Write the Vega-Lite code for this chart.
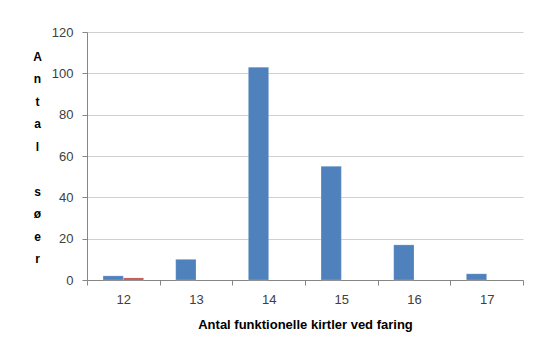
{
  "$schema": "https://vega.github.io/schema/vega-lite/v6.json",
  "width": 436,
  "height": 248,
  "autosize": {"type": "none"},
  "padding": {"left": 87, "top": 32, "right": 13, "bottom": 65},
  "background": "white",
  "config": {
    "view": {"stroke": null},
    "font": "Liberation Sans",
    "axis": {
      "labelFont": "Liberation Sans",
      "titleFont": "Liberation Sans",
      "labelFontSize": 13,
      "labelColor": "#404040",
      "domainColor": "#868686",
      "tickColor": "#868686",
      "tickSize": 5,
      "gridColor": "#d0d0d0",
      "titleColor": "#000000",
      "titleFontSize": 12,
      "titleFontWeight": "bold"
    }
  },
  "data": {
    "values": [
      {"kirtler": "12", "serie": "A", "antal": 2},
      {"kirtler": "12", "serie": "B", "antal": 1},
      {"kirtler": "13", "serie": "A", "antal": 10},
      {"kirtler": "14", "serie": "A", "antal": 103},
      {"kirtler": "15", "serie": "A", "antal": 55},
      {"kirtler": "16", "serie": "A", "antal": 17},
      {"kirtler": "17", "serie": "A", "antal": 3}
    ]
  },
  "mark": {"type": "bar", "stroke": "#ffffff", "strokeOpacity": 0.35, "strokeWidth": 0.6},
  "encoding": {
    "x": {
      "field": "kirtler",
      "type": "nominal",
      "sort": ["12", "13", "14", "15", "16", "17"],
      "scale": {"paddingInner": 0, "paddingOuter": 0},
      "axis": {
        "title": "Antal funktionelle kirtler ved faring",
        "titleFontSize": 13,
        "labelAngle": 0,
        "tickBand": "extent",
        "labelPadding": 8,
        "titlePadding": 12,
        "grid": false
      }
    },
    "xOffset": {
      "field": "serie",
      "type": "nominal",
      "sort": ["A", "B"],
      "scale": {"paddingInner": 0, "paddingOuter": 0.79}
    },
    "y": {
      "field": "antal",
      "type": "quantitative",
      "scale": {"domain": [0, 120], "nice": false},
      "axis": {
        "values": [0, 20, 40, 60, 80, 100, 120],
        "grid": true,
        "labelPadding": 9,
        "title": ["A", "n", "t", "a", "l", "\u200b", "s", "ø", "e", "r"],
        "titleAngle": 0,
        "titleAlign": "center",
        "titleBaseline": "top",
        "titleX": -50,
        "titleY": 19,
        "titleLineHeight": 22.5
      }
    },
    "color": {
      "field": "serie",
      "type": "nominal",
      "scale": {"domain": ["A", "B"], "range": ["#4f81bd", "#c0504d"]},
      "legend": null
    }
  }
}
